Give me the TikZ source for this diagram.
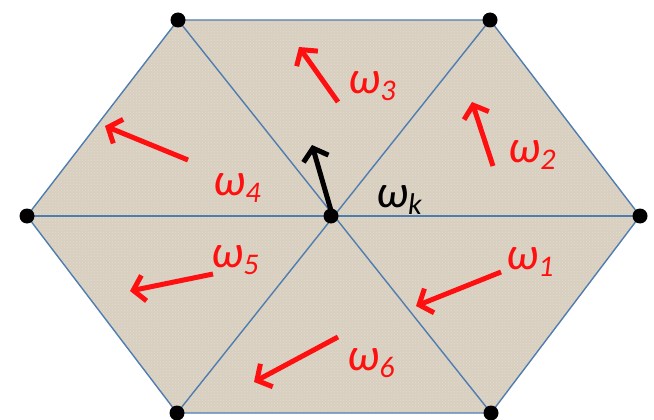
\documentclass[tikz,border=0pt]{standalone}
\usepackage{fontspec}
\setmainfont{Carlito}
\usepackage{tikz}
\usetikzlibrary{arrows.meta,calc,patterns}
\definecolor{cloth}{HTML}{D8CFC0}
\definecolor{clothlight}{HTML}{EEE8DC}
\definecolor{edgeblue}{HTML}{4F7DB0}
\definecolor{arrred}{HTML}{FF1010}
\tikzset{
  hex/cloth/.style={fill=cloth},
  hex/weave/.style={pattern=crosshatch dots, pattern color=clothlight, opacity=0.5},
  hex/edge/.style={draw=edgeblue, line width=1.4pt},
  hex/dot/.style={circle, fill=black, inner sep=0pt, minimum size=15pt},
  hex/arrow/.style={arrred, line width=5pt, -{Straight Barb[length=11pt,width=26pt]}},
  hex/karrow/.style={hex/arrow, black},
  hex/label/.style={text=arrred, inner sep=0pt, font=\fontsize{46}{48}\selectfont\itshape},
  hex/klabel/.style={hex/label, text=black}
}
\newcommand{\omlab}[1]{ω\raisebox{-7pt}{\fontsize{30}{32}\selectfont #1}}

\begin{document}
\begin{tikzpicture}[x=1pt, y=-1pt]
  \useasboundingbox (0,0) rectangle (654,420);
  % vertices
  \coordinate (tl) at (178,20);
  \coordinate (tr) at (490,20);
  \coordinate (l)  at (27,216);
  \coordinate (c)  at (331,216);
  \coordinate (r)  at (640,216);
  \coordinate (bl) at (177,413);
  \coordinate (br) at (491,413);
  \fill[hex/cloth] (tl)--(tr)--(r)--(br)--(bl)--(l)--cycle;
  \fill[hex/weave] (tl)--(tr)--(r)--(br)--(bl)--(l)--cycle;
  \draw[hex/edge] (tl)--(tr)--(r)--(br)--(bl)--(l)--cycle;
  \draw[hex/edge] (l)--(r);
  \draw[hex/edge] (tl)--(br);
  \draw[hex/edge] (tr)--(bl);
  \foreach \v in {tl,tr,l,c,r,bl,br}
    \node[hex/dot] (d-\v) at (\v) {};
  % arrow ends
  \coordinate (a1s) at (501,272); \coordinate (a1e) at (416,306);
  \coordinate (a2s) at (493,166); \coordinate (a2e) at (472,102);
  \coordinate (a3s) at (338,102); \coordinate (a3e) at (299,47);
  \coordinate (a4s) at (188,160); \coordinate (a4e) at (105,126);
  \coordinate (a5s) at (213,274); \coordinate (a5e) at (130,291);
  \coordinate (a6s) at (338,337); \coordinate (a6e) at (254,382);
  \coordinate (aks) at (332,214); \coordinate (ake) at (312,145);
  \foreach \i in {1,...,6}
    \draw[hex/arrow] (a\i s)--(a\i e);
  \draw[hex/karrow] (aks)--(ake);
  % labels
  \node[hex/label] (w1) at (530,262) {\omlab{1}};
  \node[hex/label] (w2) at (532,155) {\omlab{2}};
  \node[hex/label] (w3) at (372,86)  {\omlab{3}};
  \node[hex/label] (w4) at (237,188) {\omlab{4}};
  \node[hex/label] (w5) at (235,260) {\omlab{5}};
  \node[hex/label] (w6) at (371,363) {\omlab{6}};
  \node[hex/klabel] (wk) at (399,200) {\omlab{k}};
\end{tikzpicture}
\end{document}
